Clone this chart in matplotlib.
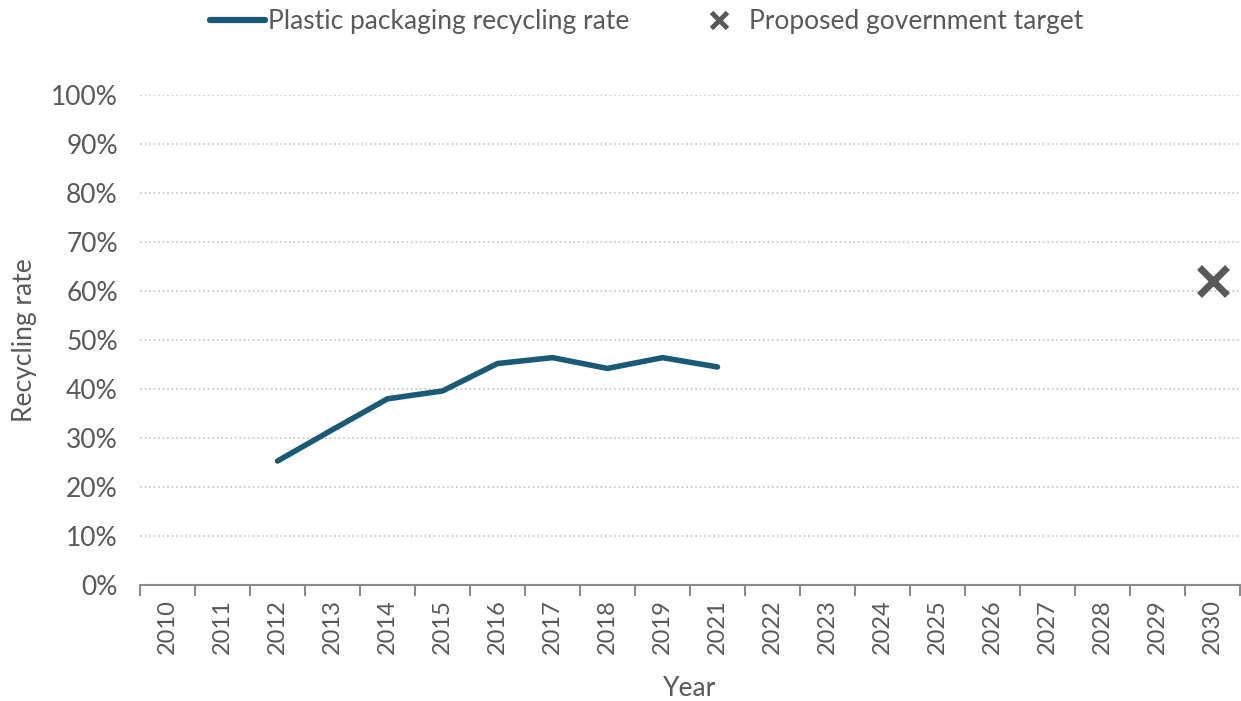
import numpy as np
import matplotlib.pyplot as plt
from matplotlib.lines import Line2D

# Category axis (2020 is not on the axis)
years = ['2010', '2011', '2012', '2013', '2014', '2015', '2016', '2017', '2018',
         '2019', '2021', '2022', '2023', '2024', '2025', '2026', '2027', '2028',
         '2029', '2030']

# Plastic packaging recycling rate (fraction)
rate_years = ['2012', '2013', '2014', '2015', '2016', '2017', '2018', '2019', '2021']
rate_values = [0.253, 0.317, 0.380, 0.396, 0.452, 0.464, 0.442, 0.464, 0.445]

# Proposed government target
target_years = ['2030']
target_values = [0.62]

text_col = '#595959'
line_col = '#1b5a75'

plt.rcParams['font.family'] = ['Lato', 'DejaVu Sans']
plt.rcParams['font.size'] = 15

fig = plt.figure(figsize=(12.41, 7.01), dpi=100)
ax = fig.add_axes([140 / 1241, 1 - 585 / 701, 1100 / 1241, 490 / 701])

xpos = {y: i for i, y in enumerate(years)}

ax.plot([xpos[y] for y in rate_years], rate_values, color=line_col, lw=4,
        solid_capstyle='round', solid_joinstyle='round', zorder=3)
ax.plot([xpos[y] for y in target_years], target_values, linestyle='none',
        marker='x', markersize=20, markeredgewidth=5, color=text_col, zorder=3)

ax.set_xlim(-0.5, len(years) - 0.5)
ax.set_ylim(0, 1.0)

# dotted gridlines
yt = np.arange(0, 1.01, 0.1)
ax.set_yticks(yt)
ax.set_yticklabels([f'{int(round(v * 100))}%' for v in yt], color=text_col, fontsize=19)
ax.yaxis.grid(True, linestyle=(0, (1, 1.5)), color='#cccccc', lw=1.3)
ax.set_axisbelow(True)
ax.tick_params(axis='y', length=0, pad=16)

ax.set_xticks(range(len(years)))
ax.set_xticklabels(years, rotation=90, color=text_col, fontsize=17)
ax.set_xticks(np.arange(-0.5, len(years)), minor=True)
ax.tick_params(axis='x', which='major', length=0, pad=10)
ax.tick_params(axis='x', which='minor', length=8, width=1.5, color='#8c8c8c')

for s in ['top', 'right', 'left']:
    ax.spines[s].set_visible(False)
ax.spines['bottom'].set_color('#8c8c8c')
ax.spines['bottom'].set_linewidth(1.5)

ax.set_ylabel('Recycling rate', color=text_col, fontsize=19, labelpad=10)
ax.set_xlabel('Year', color=text_col, fontsize=19, labelpad=16)

handles = [Line2D([], [], color=line_col, lw=4.5, solid_capstyle='round'),
           Line2D([], [], color=text_col, marker='x', linestyle='none',
                  markersize=11, markeredgewidth=3.5)]
leg = fig.legend(handles, ['Plastic packaging recycling rate', 'Proposed government target'],
                 loc='center', bbox_to_anchor=(0.521, 1 - 22 / 701), ncol=2, frameon=False,
                 fontsize=19, handlelength=2.1, handletextpad=0.1, columnspacing=2.35)
for t in leg.get_texts():
    t.set_color(text_col)

fig.savefig('out.png', dpi=100)
